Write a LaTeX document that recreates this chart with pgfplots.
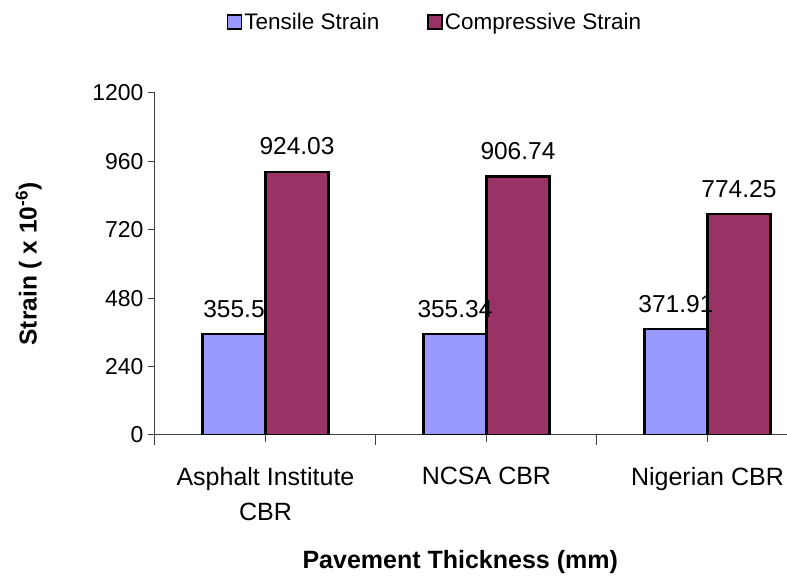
\documentclass[border=0pt]{standalone}
\usepackage{pgfplots}
\pgfplotsset{compat=1.18}
\usepackage{fontspec}
\setmainfont{Liberation Sans}
\definecolor{tens}{HTML}{9999FF}
\definecolor{comp}{HTML}{993366}
\begin{document}
\begin{tikzpicture}
\path[use as bounding box] (-155pt,-142pt) rectangle (632pt,435pt);
\begin{axis}[
  at={(0pt,0pt)}, anchor=south west,
  scale only axis, width=632pt, height=342pt,
  ybar=0pt, bar width=63pt,
  xmin=-0.5, xmax=2.36,
  ymin=0, ymax=1200,
  axis x line=bottom, axis y line=left,
  axis line style={-, black!75, line width=1pt},
  ytick={0,240,480,720,960,1200},
  xtick={0,1,2},
  xticklabels={{Asphalt Institute\\CBR},{NCSA CBR},{Nigerian CBR}},
  extra x ticks={-0.5,0.5,1.5},
  extra x tick labels={},
  extra x tick style={major tick length=10pt},
  major tick length=7pt,
  tick align=outside,
  tick style={black!75, line width=1pt},
  /pgf/number format/assume math mode=true,
  /pgf/number format/1000 sep={},
  yticklabel style={font=\fontsize{23}{28}\selectfont, xshift=-1pt},
  xticklabel style={font=\fontsize{25}{35}\selectfont, align=center, yshift=-22pt},
  ylabel={\textbf{Strain ( x 10\textsuperscript{-6})}},
  ylabel style={at={(axis description cs:-0.2,0.5)}, anchor=center, font=\fontsize{24.5}{28}\selectfont},
  xlabel={\textbf{Pavement Thickness (mm)}},
  xlabel style={at={(axis description cs:0.483,-0.37)}, anchor=center, font=\fontsize{25}{28}\selectfont},
  legend columns=2,
  legend style={at={(axis description cs:0.443,1.208)}, anchor=center, draw=none, fill=none,
    font=\fontsize{22.5}{26}\selectfont,
    /tikz/every even column/.append style={column sep=46pt}},
  legend image code/.code={\draw[#1, line width=1.5pt, draw=black] (-2pt,-7pt) rectangle (12pt,7pt);},
  point meta=explicit symbolic,
  nodes near coords,
  every node near coord/.append style={font=\fontsize{24.5}{28}\selectfont, anchor=south, yshift=12pt},
]
\addplot[fill=tens, draw=black, line width=2.2pt] coordinates {(0,355.5)[355.5] (1,355.34)[355.34] (2,371.91)[371.91]};
\addplot[fill=comp, draw=black, line width=2.2pt] coordinates {(0,924.03)[924.03] (1,906.74)[906.74] (2,774.25)[774.25]};
\legend{Tensile Strain, Compressive Strain}
\end{axis}
\end{tikzpicture}
\end{document}
